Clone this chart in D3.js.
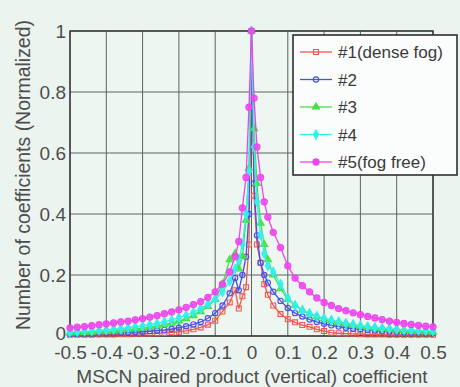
<!DOCTYPE html>
<html>
<head>
<meta charset="utf-8">
<script src="https://cdn.jsdelivr.net/npm/d3@7"></script>
<style>
  body { margin: 0; background: #ebf4ef; }
  svg { display: block; font-family: "Liberation Sans", Arial, sans-serif; }
</style>
</head>
<body>
<svg id="chart" width="460" height="387"></svg>
<script>
// x positions of the histogram bins (finer near zero)
const xs = [-0.5,-0.48,-0.46,-0.44,-0.42,-0.4,-0.38,-0.36,-0.34,-0.32,-0.3,-0.28,-0.26,-0.24,-0.22,-0.2,-0.18,-0.16,-0.14,-0.12,-0.1,-0.08,-0.06,
  -0.045,-0.035,-0.025,-0.015,-0.007,0,0.007,0.015,0.025,0.035,0.045,
  0.06,0.08,0.1,0.12,0.14,0.16,0.18,0.2,0.22,0.24,0.26,0.28,0.3,0.32,0.34,0.36,0.38,0.4,0.42,0.44,0.46,0.48,0.5];

const seriesNames = ["#1(dense fog)", "#2", "#3", "#4", "#5(fog free)"];

const fog1 = [0.004,0.004,0.004,0.004,0.005,0.005,0.005,0.006,0.006,0.007,0.007,0.008,0.009,0.010,0.012,0.014,0.017,0.022,0.028,0.037,0.05,0.08,0.11,
  0.15,0.09,0.13,0.16,0.3,1,0.46,0.3,0.24,0.17,0.135,
  0.1,0.072,0.055,0.045,0.036,0.03,0.022,0.016,0.011,0.009,0.008,0.007,0.006,0.005,0.005,0.005,0.004,0.004,0.004,0.004,0.004,0.004,0.004];
const fog2 = [0.007,0.007,0.008,0.008,0.009,0.009,0.01,0.011,0.012,0.013,0.014,0.016,0.018,0.02,0.023,0.027,0.032,0.038,0.046,0.058,0.075,0.1,0.14,
  0.19,0.15,0.2,0.26,0.4,1,0.5,0.33,0.24,0.2,0.175,
  0.145,0.115,0.092,0.075,0.064,0.054,0.046,0.04,0.035,0.031,0.027,0.024,0.022,0.02,0.018,0.016,0.015,0.014,0.013,0.012,0.011,0.01,0.009];
const fog3 = [0.01,0.011,0.012,0.013,0.014,0.015,0.017,0.019,0.021,0.023,0.026,0.029,0.033,0.037,0.042,0.049,0.057,0.067,0.08,0.097,0.12,0.17,0.25,
  0.27,0.22,0.26,0.38,0.55,1,0.68,0.5,0.37,0.3,0.25,
  0.2,0.155,0.12,0.1,0.085,0.073,0.064,0.056,0.05,0.045,0.04,0.036,0.032,0.029,0.026,0.024,0.022,0.02,0.018,0.016,0.015,0.014,0.013];
const fog4 = [0.013,0.014,0.015,0.016,0.018,0.02,0.022,0.024,0.027,0.03,0.033,0.037,0.041,0.046,0.052,0.06,0.068,0.078,0.09,0.105,0.12,0.145,0.18,
  0.22,0.25,0.3,0.4,0.54,1,0.62,0.44,0.33,0.27,0.23,
  0.21,0.17,0.125,0.1,0.085,0.074,0.065,0.058,0.052,0.047,0.042,0.038,0.034,0.031,0.028,0.026,0.024,0.022,0.02,0.019,0.018,0.017,0.016];
const fog5 = [0.027,0.029,0.031,0.034,0.037,0.04,0.043,0.046,0.049,0.053,0.057,0.062,0.067,0.073,0.079,0.086,0.094,0.103,0.113,0.127,0.145,0.17,0.21,
  0.26,0.31,0.42,0.52,0.75,1,0.78,0.62,0.52,0.44,0.39,
  0.34,0.29,0.23,0.19,0.165,0.145,0.125,0.11,0.1,0.09,0.083,0.076,0.07,0.064,0.059,0.054,0.049,0.045,0.041,0.038,0.035,0.032,0.03];

const xTicks = [-0.5,-0.4,-0.3,-0.2,-0.1,0,0.1,0.2,0.3,0.4,0.5];
const yTicks = [0,0.2,0.4,0.6,0.8,1];

const colors = ["#f2564c", "#4750e6", "#44e044", "#33eeee", "#ee44ee"];
const shapes = [d3.symbolSquare, d3.symbolCircle, d3.symbolTriangle, d3.symbolDiamond, d3.symbolCircle];
const fills = [false, false, true, true, true];
const sizes = [24, 22, 22, 24, 30];

const plotLeft = 70, plotRight = 433, plotTop = 31, plotBottom = 336;

const svg = d3.select("#chart");

const x = d3.scaleLinear().domain([-0.5, 0.5]).range([plotLeft, plotRight]);
const y = d3.scaleLinear().domain([0, 1]).range([plotBottom, plotTop]);

// plot background
svg.append("rect")
  .attr("x", plotLeft).attr("y", plotTop)
  .attr("width", plotRight - plotLeft).attr("height", plotBottom - plotTop)
  .attr("fill", "#eef6f2");

// grid
svg.append("g").selectAll("line").data(xTicks).enter().append("line")
  .attr("x1", d => x(d)).attr("x2", d => x(d))
  .attr("y1", plotTop).attr("y2", plotBottom)
  .attr("stroke", "#5e625f").attr("stroke-width", 1);
svg.append("g").selectAll("line").data(yTicks).enter().append("line")
  .attr("x1", plotLeft).attr("x2", plotRight)
  .attr("y1", d => y(d)).attr("y2", d => y(d))
  .attr("stroke", "#5e625f").attr("stroke-width", 1);

// axes (tick labels only, MATLAB style)
const xAxis = d3.axisBottom(x).tickValues(xTicks).tickSize(0).tickPadding(10)
  .tickFormat(d => d === 0 ? "0" : d3.format(".1f")(d).replace("−", "-"));
const yAxis = d3.axisLeft(y).tickValues(yTicks).tickSize(0).tickPadding(4)
  .tickFormat(d => (d === 0 || d === 1) ? String(d) : d3.format(".1f")(d));

const gx = svg.append("g").attr("transform", `translate(0,${plotBottom})`).call(xAxis);
const gy = svg.append("g").attr("transform", `translate(${plotLeft},0)`).call(yAxis);
[gx, gy].forEach(g => {
  g.select(".domain").remove();
  g.selectAll("text").attr("font-size", 19).attr("fill", "#4d4d4d")
    .attr("font-family", "Liberation Sans, Arial, sans-serif");
});
// the "0" of the y axis sits right at the corner; lift it a touch
gy.selectAll("text").filter(d => d === 0).attr("dy", "0.2em");

// box
svg.append("rect")
  .attr("x", plotLeft).attr("y", plotTop)
  .attr("width", plotRight - plotLeft).attr("height", plotBottom - plotTop)
  .attr("fill", "none").attr("stroke", "#3c3c3c").attr("stroke-width", 1.5);

// series
const allSeries = [fog1, fog2, fog3, fog4, fog5];
const line = d3.line().x(d => x(d[0])).y(d => y(d[1]));

allSeries.forEach((vals, i) => {
  const pts = xs.map((v, j) => [v, vals[j]]);
  const g = svg.append("g");
  g.append("path").datum(pts)
    .attr("d", line)
    .attr("fill", "none")
    .attr("stroke", colors[i])
    .attr("stroke-width", 1.3);
  g.selectAll("path.m").data(pts).enter().append("path")
    .attr("class", "m")
    .attr("d", d3.symbol().type(shapes[i]).size(sizes[i]))
    .attr("transform", d => `translate(${x(d[0])},${y(d[1])})`)
    .attr("fill", fills[i] ? colors[i] : "none")
    .attr("fill-opacity", 0.85)
    .attr("stroke", colors[i])
    .attr("stroke-width", 1.1);
});

// legend
const lg = svg.append("g").attr("transform", "translate(293,35)");
lg.append("rect")
  .attr("width", 164).attr("height", 140)
  .attr("fill", "#fbfdfc").attr("stroke", "#222").attr("stroke-width", 1.5);
seriesNames.forEach((name, i) => {
  const yy = 17 + i * 27.5;
  lg.append("line")
    .attr("x1", 7).attr("x2", 39).attr("y1", yy).attr("y2", yy)
    .attr("stroke", colors[i]).attr("stroke-width", 1.3);
  lg.append("path")
    .attr("d", d3.symbol().type(shapes[i]).size(sizes[i]))
    .attr("transform", `translate(23,${yy})`)
    .attr("fill", fills[i] ? colors[i] : "none")
    .attr("stroke", colors[i]).attr("stroke-width", 1.1);
  lg.append("text")
    .attr("x", 45).attr("y", yy + 6)
    .attr("font-size", 17).attr("fill", "#3a3a3a")
    .text(name);
});

// axis titles
svg.append("text")
  .attr("x", 252).attr("y", 383)
  .attr("text-anchor", "middle")
  .attr("font-size", 19).attr("fill", "#4d4d4d")
  .text("MSCN paired product (vertical) coefficient");

svg.append("text")
  .attr("transform", "translate(30,175) rotate(-90)")
  .attr("text-anchor", "middle")
  .attr("font-size", 20).attr("fill", "#4d4d4d")
  .attr("textLength", 310).attr("lengthAdjust", "spacingAndGlyphs")
  .text("Number of coefficients (Normalized)");
</script>
</body>
</html>
